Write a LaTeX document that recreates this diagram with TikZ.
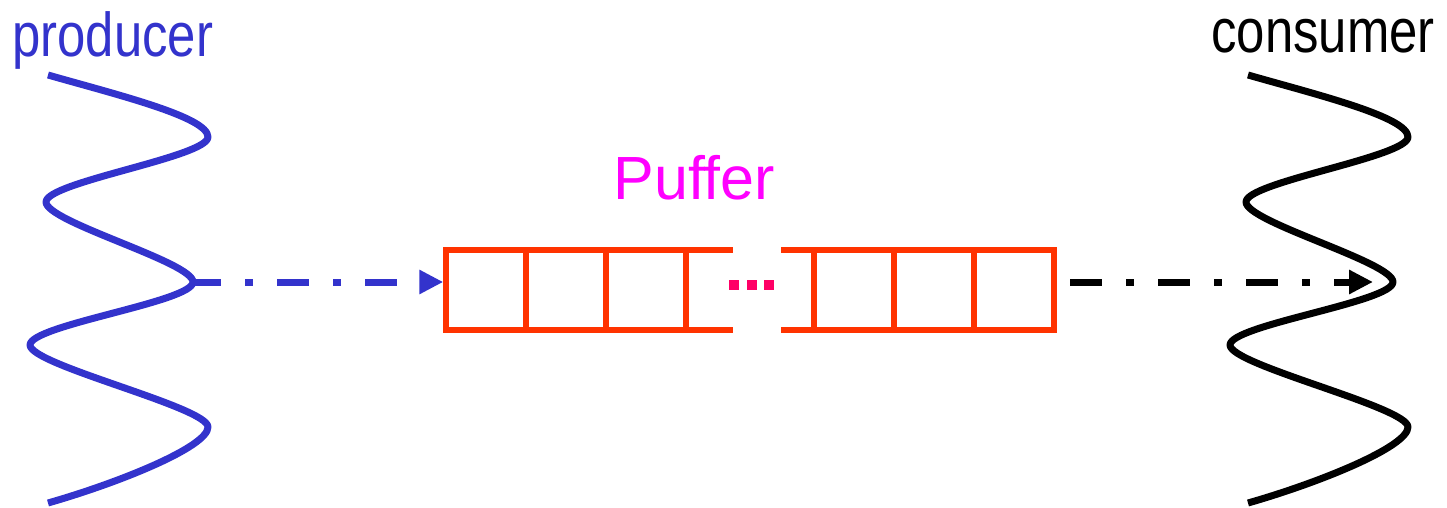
\documentclass[tikz,border=0pt]{standalone}
\usepackage{fontspec}
\setmainfont{Liberation Sans}
\newfontfamily\narrowsans[FakeStretch=0.82]{Liberation Sans}
\usetikzlibrary{arrows.meta}
\definecolor{prodblue}{HTML}{3333CC}
\definecolor{bufred}{HTML}{FF3300}
\definecolor{pufmag}{HTML}{FF00FF}
\definecolor{dotpink}{HTML}{FF0066}
\tikzset{
  wavepath/.style={line width=3.5pt, line join=round},
  bufcell/.style={draw=bufred, line width=2.75pt, rectangle, inner sep=0pt, minimum width=40pt, minimum height=40pt},
  bufline/.style={draw=bufred, line width=2.75pt},
  dotsq/.style={fill=dotpink, rectangle, inner sep=0pt, minimum size=5pt},
  flow/.style={line width=3.5pt, dash pattern=on 16pt off 12pt on 4pt off 12pt, -{Triangle[length=12pt,width=11.5pt]}},
  label/.style={inner sep=0pt, anchor=base west},
  wave/.pic={
    \draw[wavepath] (48,75) .. controls (118,95) and (208,117) .. (208,137)
      .. controls (208,157) and (46,182) .. (46,202)
      .. controls (46,222) and (193,262) .. (193,282)
      .. controls (193,302) and (30,325) .. (30,345)
      .. controls (30,365) and (208,407) .. (208,427)
      .. controls (208,447) and (118,483) .. (48,503);
  }
}
\begin{document}
\begin{tikzpicture}[x=0.5pt,y=-0.5pt]
\useasboundingbox (0,0) rectangle (1447,508);
% threads
\pic[prodblue] at (0,0) {wave};
\pic[black] at (1200,0) {wave};
% labels
\node[label, text=prodblue, font=\narrowsans\fontsize{31pt}{37pt}\selectfont] (prod) at (12,57) {producer};
\node[label, text=black, font=\narrowsans\fontsize{31pt}{37pt}\selectfont] (cons) at (1211,53) {consumer};
\node[label, text=pufmag, font=\fontsize{30.5pt}{36pt}\selectfont] (puf) at (613,199) {Puffer};
% buffer cells
\node[bufcell] (c1) at (486,290) {};
\node[bufcell] (c2) at (566,290) {};
\node[bufcell] (c3) at (646,290) {};
\node[bufcell] (c4) at (854,290) {};
\node[bufcell] (c5) at (934,290) {};
\node[bufcell] (c6) at (1014,290) {};
\draw[bufline] (669,250) -- (733,250);
\draw[bufline] (669,330) -- (733,330);
\draw[bufline] (781,250) -- (845,250);
\draw[bufline] (781,330) -- (845,330);
% dots
\node[dotsq] (d1) at (734,285) {};
\node[dotsq] (d2) at (752,285) {};
\node[dotsq] (d3) at (769,285) {};
% connectors
\coordinate (ptip) at (193,282);
\coordinate (cstart) at (1070,282);
\coordinate (cend) at (1373,282);
\draw[flow, prodblue, dash phase=2pt] (ptip) -- (ptip -| c1.west);
\draw[flow, black] (cstart) -- (cend);
\end{tikzpicture}
\end{document}
